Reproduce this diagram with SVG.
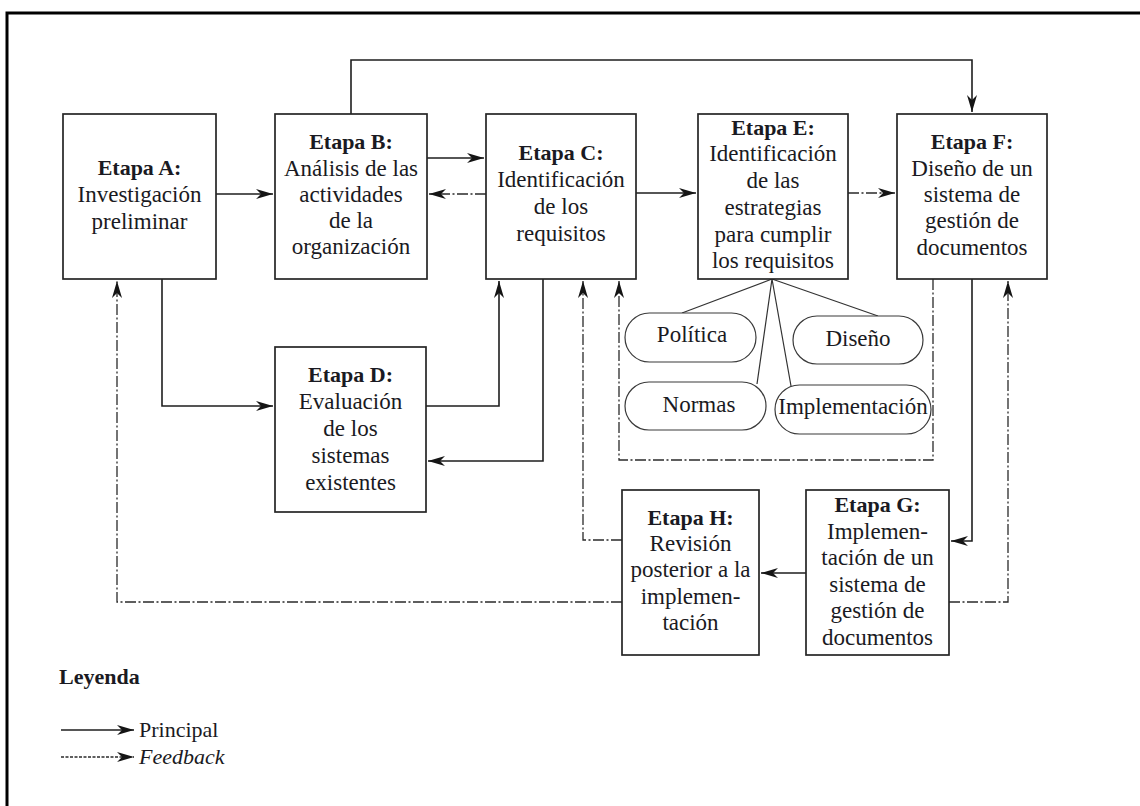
<svg xmlns="http://www.w3.org/2000/svg" width="1140" height="806" viewBox="0 0 1140 806">
<defs>
<marker id="ah" viewBox="0 0 17 10" refX="17" refY="5" markerWidth="17" markerHeight="10" markerUnits="userSpaceOnUse" orient="auto">
<path d="M0,0 L17,5 L0,10 L5,5 Z" fill="#151515"/>
</marker>
</defs>
<style>
.box{fill:#fff;stroke:#252525;stroke-width:1.7}
.pill{fill:#fff;stroke:#3a3a3a;stroke-width:1.2}
.t{font-family:"Liberation Serif","Times New Roman",serif;font-size:23px;fill:#1a1a22;text-anchor:middle}
.b{font-weight:bold;font-size:22px}
.main{fill:none;stroke:#1e1e1e;stroke-width:1.6}
.fb{fill:none;stroke:#2a2a2a;stroke-width:1.3;stroke-dasharray:11 2.5 2 2.5}
.thin{fill:none;stroke:#333;stroke-width:1.2}
.lg{font-family:"Liberation Serif","Times New Roman",serif;font-size:22px;fill:#1a1a22}
</style>
<rect width="1140" height="806" fill="#fff"/>
<path d="M1140,13 H7 V806" fill="none" stroke="#000" stroke-width="3"/>

<g id="connectors">
<path class="main" d="M351,114 V60 H972 V112" marker-end="url(#ah)"/>
<path class="main" d="M216,194 H273" marker-end="url(#ah)"/>
<path class="main" d="M427,158 H484" marker-end="url(#ah)"/>
<path class="fb" d="M486,194 H429" marker-end="url(#ah)"/>
<path class="main" d="M636,193 H696" marker-end="url(#ah)"/>
<path class="fb" d="M848,193 H895" marker-end="url(#ah)"/>
<path class="main" d="M162,279 V406 H273" marker-end="url(#ah)"/>
<path class="main" d="M426,406 H499 V281" marker-end="url(#ah)"/>
<path class="main" d="M543,279 V461 H428" marker-end="url(#ah)"/>
<path class="fb" d="M933,279 V460 H619 V281" marker-end="url(#ah)"/>
<path class="main" d="M972,279 V541 H951" marker-end="url(#ah)"/>
<path class="main" d="M806,573 H761" marker-end="url(#ah)"/>
<path class="fb" d="M622,540 H583 V281" marker-end="url(#ah)"/>
<path class="fb" d="M622,602 H117 V281" marker-end="url(#ah)"/>
<path class="fb" d="M949,602 H1008 V281" marker-end="url(#ah)"/>
<path class="thin" d="M772,279 L682,313 M772,279 L878,316 M772,279 L757,384 M772,279 L791,386"/>
</g>

<g id="nodeA">
<rect class="box" x="63" y="114" width="153" height="165"/>
<text class="t b" x="139.5" y="175">Etapa A:</text>
<text class="t" x="139.5" y="202">Investigación</text>
<text class="t" x="139.5" y="229">preliminar</text>
</g>
<g id="nodeB">
<rect class="box" x="275" y="114" width="152" height="165"/>
<text class="t b" x="351" y="149">Etapa B:</text>
<text class="t" x="351" y="176">Análisis de las</text>
<text class="t" x="351" y="202">actividades</text>
<text class="t" x="351" y="228">de la</text>
<text class="t" x="351" y="254">organización</text>
</g>
<g id="nodeC">
<rect class="box" x="486" y="114" width="150" height="165"/>
<text class="t b" x="561" y="160">Etapa C:</text>
<text class="t" x="561" y="187">Identificación</text>
<text class="t" x="561" y="214">de los</text>
<text class="t" x="561" y="241">requisitos</text>
</g>
<g id="nodeE">
<rect class="box" x="698" y="114" width="150" height="165"/>
<text class="t b" x="773" y="135">Etapa E:</text>
<text class="t" x="773" y="161">Identificación</text>
<text class="t" x="773" y="188">de las</text>
<text class="t" x="773" y="215">estrategias</text>
<text class="t" x="773" y="242">para cumplir</text>
<text class="t" x="773" y="268">los requisitos</text>
</g>
<g id="nodeF">
<rect class="box" x="897" y="114" width="150" height="165"/>
<text class="t b" x="972" y="149">Etapa F:</text>
<text class="t" x="972" y="176">Diseño de un</text>
<text class="t" x="972" y="202">sistema de</text>
<text class="t" x="972" y="228">gestión de</text>
<text class="t" x="972" y="255">documentos</text>
</g>
<g id="nodeD">
<rect class="box" x="275" y="347" width="151" height="165"/>
<text class="t b" x="350.5" y="382">Etapa D:</text>
<text class="t" x="350.5" y="409">Evaluación</text>
<text class="t" x="350.5" y="436">de los</text>
<text class="t" x="350.5" y="463">sistemas</text>
<text class="t" x="350.5" y="490">existentes</text>
</g>
<g id="nodeH">
<rect class="box" x="622" y="490" width="137" height="165"/>
<text class="t b" x="690.5" y="525">Etapa H:</text>
<text class="t" x="690.5" y="551">Revisión</text>
<text class="t" x="690.5" y="577">posterior a la</text>
<text class="t" x="690.5" y="604">implemen-</text>
<text class="t" x="690.5" y="630">tación</text>
</g>
<g id="nodeG">
<rect class="box" x="806" y="490" width="143" height="165"/>
<text class="t b" x="877.5" y="512">Etapa G:</text>
<text class="t" x="877.5" y="539">Implemen-</text>
<text class="t" x="877.5" y="565">tación de un</text>
<text class="t" x="877.5" y="592">sistema de</text>
<text class="t" x="877.5" y="618">gestión de</text>
<text class="t" x="877.5" y="645">documentos</text>
</g>
<g id="pillPolitica">
<rect class="pill" x="625" y="313" width="131" height="49" rx="24.5"/>
<text class="t" x="692" y="342">Política</text>
</g>
<g id="pillDiseno">
<rect class="pill" x="793" y="316" width="130" height="48" rx="24"/>
<text class="t" x="858" y="346">Diseño</text>
</g>
<g id="pillNormas">
<rect class="pill" x="625" y="382" width="141" height="48" rx="24"/>
<text class="t" x="699" y="412">Normas</text>
</g>
<g id="pillImplementacion">
<rect class="pill" x="775" y="385" width="156" height="49" rx="24.5"/>
<text class="t" x="853" y="414">Implementación</text>
</g>

<g id="legend">
<text class="lg" x="59" y="684" font-weight="bold" font-size="21px">Leyenda</text>
<path class="main" d="M61,730 H134" marker-end="url(#ah)"/>
<text class="lg" x="139" y="737">Principal</text>
<path d="M61,757 H134" fill="none" stroke="#2a2a2a" stroke-width="1.3" stroke-dasharray="3 1.5" marker-end="url(#ah)"/>
<text class="lg" x="139" y="764" font-style="italic">Feedback</text>
</g>
</svg>
